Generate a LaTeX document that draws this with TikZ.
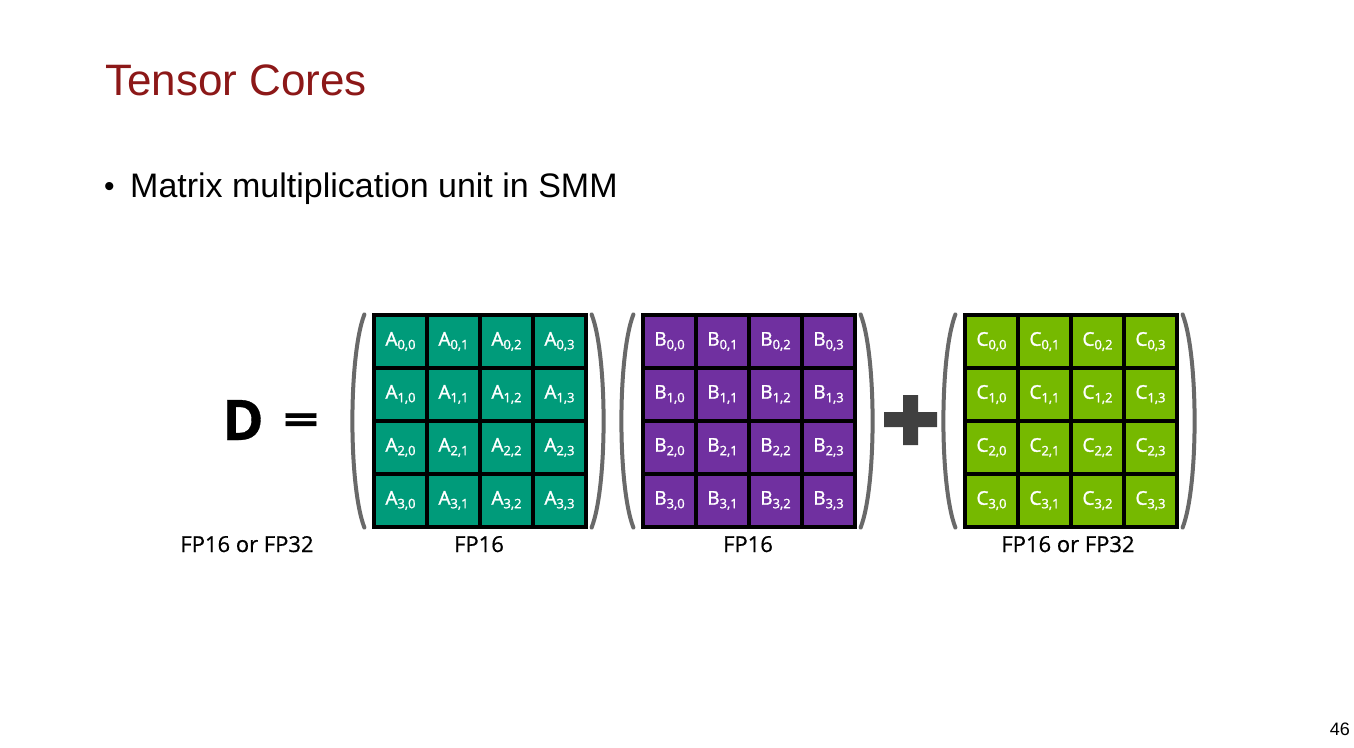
\documentclass[tikz,border=0pt]{standalone}
\usepackage{fontspec}
\setmainfont{Liberation Sans}
\newfontfamily\nvfont[FakeBold=0.6]{Open Sans}
\newfontfamily\nvcell[FakeBold=1.4]{Open Sans}
\usetikzlibrary{positioning}
\definecolor{ttl}{RGB}{140,24,24}
\definecolor{ga}{RGB}{0,155,122}
\definecolor{gb}{RGB}{112,48,160}
\definecolor{gc}{RGB}{118,185,0}
\definecolor{pargray}{RGB}{105,105,105}
\definecolor{plusgray}{RGB}{64,64,64}
\newcommand{\cellsub}[1]{{\fontsize{13}{13}\selectfont\raisebox{-3.5pt}{#1}}}
\tikzset{cel/.append style={minimum size=53pt, draw, line width=3.2pt, inner sep=0pt, text=white, font=\nvcell\fontsize{19}{19}\selectfont}}
\tikzset{par/.append style={draw=pargray, line width=4pt, line cap=round}}
\tikzset{fp/.append style={anchor=base, inner sep=0pt, font=\nvfont\fontsize{22}{22}\selectfont}}

\begin{document}
\begin{tikzpicture}[x=1pt,y=-1pt]
                \useasboundingbox (0,0) rectangle (1354,747);
                % \SetUpText
                \node[anchor=base west, inner sep=0pt, text=ttl, font=\fontsize{44}{44}\selectfont] (title) at (105,95) {Tensor Cores};
                \node[anchor=base west, inner sep=0pt, font=\fontsize{30}{30}\selectfont] (dot) at (104,196) {\textbullet};
                \node[anchor=base west, inner sep=0pt, font=\fontsize{34}{34}\selectfont] (item) at (130,197) {Matrix multiplication unit in SMM};
                \node[anchor=base east, inner sep=0pt, font=\fontsize{18}{18}\selectfont] (page) at (1350,735) {46};
                % \SetUpMatrices
                \foreach \m/\x/\c in {A/374/ga, B/643/gb, C/965/gc}
                  \foreach \i in {0,...,3}
                    \foreach \j in {0,...,3}
                      \node[cel,fill=\c] (\m\i\j) at (\x+26.5+53*\j, 341.5+53*\i) {\m\cellsub{\i,\j}};
                \foreach \m in {A,B,C} {
                  \draw[par] ([xshift=-8pt,yshift=-1pt]\m00.north west) .. controls ([xshift=-24pt,yshift=-42pt]\m00.north west) and ([xshift=-24pt,yshift=42pt]\m30.south west) .. ([xshift=-8pt,yshift=1pt]\m30.south west);
                  \draw[par] ([xshift=4pt,yshift=-1pt]\m03.north east) .. controls ([xshift=20pt,yshift=-42pt]\m03.north east) and ([xshift=20pt,yshift=42pt]\m33.south east) .. ([xshift=4pt,yshift=1pt]\m33.south east);
                }
                % \SetUpSymbols
                \node[anchor=base, inner sep=0pt, font=\nvfont\bfseries\fontsize{56}{56}\selectfont] (D) at (243,440) {D};
                \node[inner sep=0pt, font=\nvfont\bfseries\fontsize{43}{43}\selectfont] (eq) at (301,424) {\scalebox{1.45}[1]{=}};
                \fill[plusgray] (884,412) -- (903,412) -- (903,395) -- (918,395) -- (918,412) -- (937,412) -- (937,427) -- (918,427) -- (918,445) -- (903,445) -- (903,427) -- (884,427) -- cycle;
                % \SetUpLabels
                \node[fp] (fpd) at (247,552) {FP16 or FP32};
                \node[fp] (fpa) at (479,552) {FP16};
                \node[fp] (fpb) at (748,552) {FP16};
                \node[fp] (fpc) at (1068,552) {FP16 or FP32};
            \end{tikzpicture}
\end{document}
